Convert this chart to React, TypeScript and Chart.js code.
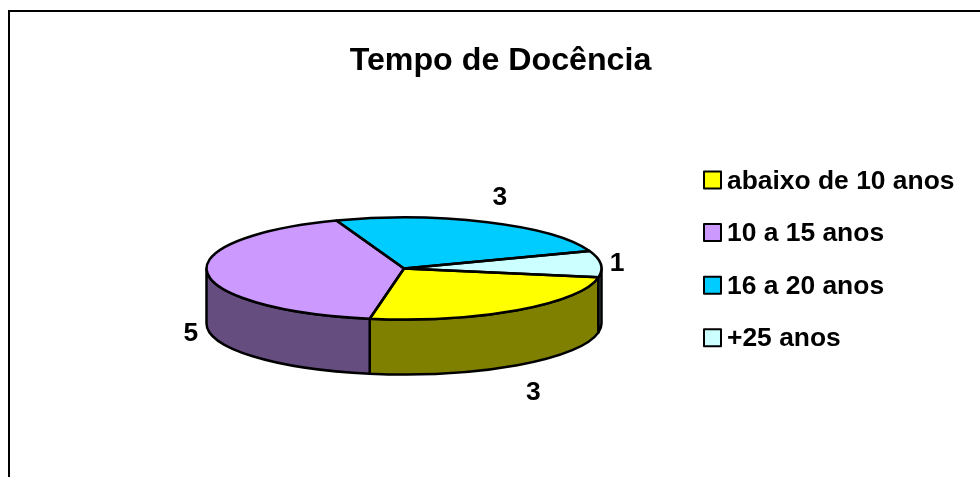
import React, { useEffect, useRef } from "react";
import { Chart, registerables } from "chart.js";

Chart.register(...registerables);

const titleText = "Tempo de Docência";
const categories = ["abaixo de 10 anos", "10 a 15 anos", "16 a 20 anos", "+25 anos"];
const values = [3, 5, 3, 1];
const colors = ["#FFFF00", "#CC99FF", "#00CCFF", "#CCFFFF"];

const FONT = "'Liberation Sans', Arial, sans-serif";
const CX = 404;
const CY = 268.5;
const RX = 197.5;
const RY = 51;
const DEPTH = 55;
const STRETCH = 1.04;

const halve = (hex: string) => {
  const n = parseInt(hex.slice(1), 16);
  const c = [(n >> 16) & 255, (n >> 8) & 255, n & 255].map((v) => Math.round(v * 0.5));
  return `rgb(${c[0]},${c[1]},${c[2]})`;
};

const wideText = (ctx: any, text: string, x: number, y: number) => {
  ctx.save();
  ctx.translate(x, y);
  ctx.scale(STRETCH, 1);
  ctx.fillText(text, 0, 0);
  ctx.restore();
};

const pie3d = {
  id: "pie3d",
  beforeDraw(chart: any) {
    const { ctx } = chart;
    ctx.save();
    ctx.fillStyle = "#fff";
    ctx.fillRect(0, 0, chart.width, chart.height);
    ctx.fillStyle = "#000";
    ctx.fillRect(8, 10, 2, chart.height - 10);
    ctx.fillRect(8, 10, chart.width - 8, 2);
    ctx.restore();
  },
  beforeDatasetsDraw(chart: any) {
    const { ctx } = chart;
    const arcs = chart.getDatasetMeta(0).data;
    ctx.save();
    ctx.lineWidth = 2.5;
    ctx.strokeStyle = "#000";
    ctx.lineJoin = "round";
    arcs.forEach((arc: any, i: number) => {
      for (const k of [-1, 0, 1]) {
        const a = Math.max(arc.startAngle, 2 * Math.PI * k);
        const b = Math.min(arc.endAngle, 2 * Math.PI * k + Math.PI);
        if (b <= a) continue;
        ctx.beginPath();
        ctx.ellipse(CX, CY, RX, RY, 0, a, b);
        ctx.ellipse(CX, CY + DEPTH, RX, RY, 0, b, a, true);
        ctx.closePath();
        ctx.fillStyle = halve(colors[i]);
        ctx.fill();
        ctx.stroke();
      }
    });
    ctx.restore();
    const r = arcs[0].outerRadius;
    ctx.save();
    ctx.translate(CX, CY);
    ctx.scale(RX / r, RY / r);
    ctx.translate(-arcs[0].x, -arcs[0].y);
  },
  afterDatasetsDraw(chart: any) {
    const { ctx } = chart;
    ctx.restore();
    const arcs = chart.getDatasetMeta(0).data;
    ctx.save();
    ctx.lineWidth = 2.5;
    ctx.strokeStyle = "#000";
    ctx.lineJoin = "round";
    arcs.forEach((arc: any) => {
      ctx.beginPath();
      ctx.moveTo(CX, CY);
      ctx.ellipse(CX, CY, RX, RY, 0, arc.startAngle, arc.endAngle);
      ctx.closePath();
      ctx.stroke();
    });
    ctx.fillStyle = "#000";
    ctx.font = `bold 25.4px ${FONT}`;
    ctx.textAlign = "center";
    ctx.textBaseline = "middle";
    arcs.forEach((arc: any, i: number) => {
      const mid = (arc.startAngle + arc.endAngle) / 2;
      const s = Math.sin(mid);
      const c = Math.cos(mid);
      const x = CX + c * (RX + 15 + 16 * Math.abs(s));
      const y = CY + 3 + s * (RY + 30) + (s > 0 ? DEPTH : 0);
      wideText(ctx, String(values[i]), x, y);
    });

    // legend
    ctx.textAlign = "left";
    categories.forEach((text, i) => {
      const yc = 180 + i * 52.6;
      ctx.fillStyle = colors[i];
      ctx.fillRect(704, yc - 8.5, 17, 17);
      ctx.lineWidth = 2;
      ctx.strokeStyle = "#000";
      ctx.strokeRect(704, yc - 8.5, 17, 17);
      ctx.fillStyle = "#000";
      wideText(ctx, text, 727, yc + 1.5);
    });
    ctx.restore();
  },
};

export default function App() {
  const ref = useRef<HTMLCanvasElement>(null);
  useEffect(() => {
    const chart = new Chart(ref.current!, {
      type: "pie",
      plugins: [pie3d],
      data: {
        labels: categories,
        datasets: [{ data: values, backgroundColor: colors, borderWidth: 0, clip: false } as any],
      },
      options: {
        responsive: false,
        animation: false,
        rotation: 100,
        layout: { padding: { left: 21 } },
        plugins: {
          tooltip: { enabled: false },
          legend: { display: false },
          title: {
            display: true,
            text: titleText,
            color: "#000",
            font: { family: FONT, size: 32.2, weight: "bold" },
            padding: { top: 42, bottom: 10 },
          },
        },
      },
    } as any);
    return () => chart.destroy();
  }, []);
  return (
    <canvas
      ref={ref}
      width={980}
      height={477}
      style={{ position: "fixed", left: 0, top: 0, display: "block" }}
    />
  );
}
